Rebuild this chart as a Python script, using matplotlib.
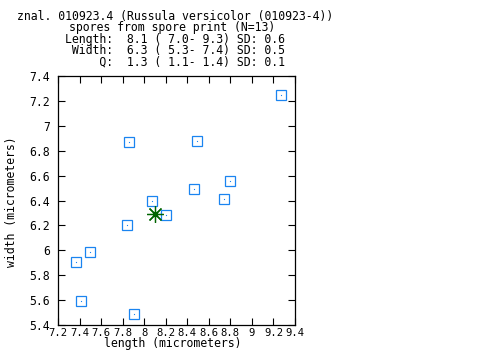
import numpy as np
import matplotlib
matplotlib.use("Agg")
import matplotlib.pyplot as plt
from matplotlib.ticker import FuncFormatter, MultipleLocator

# spore measurements (micrometers)
length = [7.37, 7.50, 7.41, 7.91, 7.84, 8.20, 8.07, 7.86, 8.49, 8.46, 8.80, 8.74, 9.27]
width = [5.91, 5.99, 5.59, 5.49, 6.20, 6.28, 6.40, 6.87, 6.88, 6.49, 6.56, 6.41, 7.25]
mean_point = (8.10, 6.29)

title_lines = [
    "znal. 010923.4 (Russula versicolor (010923-4))",
    "spores from spore print (N=13) ",
    "Length:  8.1 ( 7.0- 9.3) SD: 0.6",
    " Width:  6.3 ( 5.3- 7.4) SD: 0.5",
    "     Q:  1.3 ( 1.1- 1.4) SD: 0.1",
]

W, H = 480, 360
mono = "DejaVu Sans Mono"
fs = 8.3
blue = "#1a84f0"
green = "#006400"

plt.rcParams['font.family'] = mono
plt.rcParams['font.size'] = fs

fig = plt.figure(figsize=(W / 100, H / 100), dpi=100)
ax = fig.add_axes([58 / W, (H - 325) / H, 237 / W, 249 / H])

ax.plot(length, width, linestyle='none', marker='s', markersize=7.2,
        markerfacecolor='none', markeredgecolor=blue, markeredgewidth=0.9)
ax.plot(length, width, linestyle='none', marker='s', markersize=0.8,
        markerfacecolor=blue, markeredgecolor=blue, markeredgewidth=0)
ax.plot([mean_point[0]], [mean_point[1]], linestyle='none', marker=(8, 2, 0),
        markersize=12, markeredgecolor=green, markeredgewidth=0.9)
ax.plot([mean_point[0]], [mean_point[1]], linestyle='none', marker='o',
        markersize=3, color=green)

ax.set_xlim(7.2, 9.4)
ax.set_ylim(5.4, 7.4)
ax.xaxis.set_major_locator(MultipleLocator(0.2))
ax.yaxis.set_major_locator(MultipleLocator(0.2))
fmt = FuncFormatter(lambda v, p: "%g" % round(v, 2))
ax.xaxis.set_major_formatter(fmt)
ax.yaxis.set_major_formatter(fmt)
ax.tick_params(direction='in', length=5, width=0.8, top=True, right=True,
               labelsize=fs, colors='black')
ax.tick_params(axis='x', pad=2, labelsize=7.6)
ax.tick_params(axis='y', pad=6)
for s in ax.spines.values():
    s.set_linewidth(0.9)

fig.text(173 / W, 1 - 344 / H, "length (micrometers)", ha='center', va='center',
         fontsize=fs)
fig.text(12 / W, 1 - 202 / H, "width (micrometers)", ha='center', va='center',
         rotation=90, fontsize=fs)

# title block, lines centred on the same column like gnuplot does
fig.text(175.3 / W, 1 - 10 / H, "\n".join(title_lines), ha='center', va='top',
         multialignment='center', fontsize=fs, linespacing=0.84)

fig.savefig("out.png", dpi=100)
